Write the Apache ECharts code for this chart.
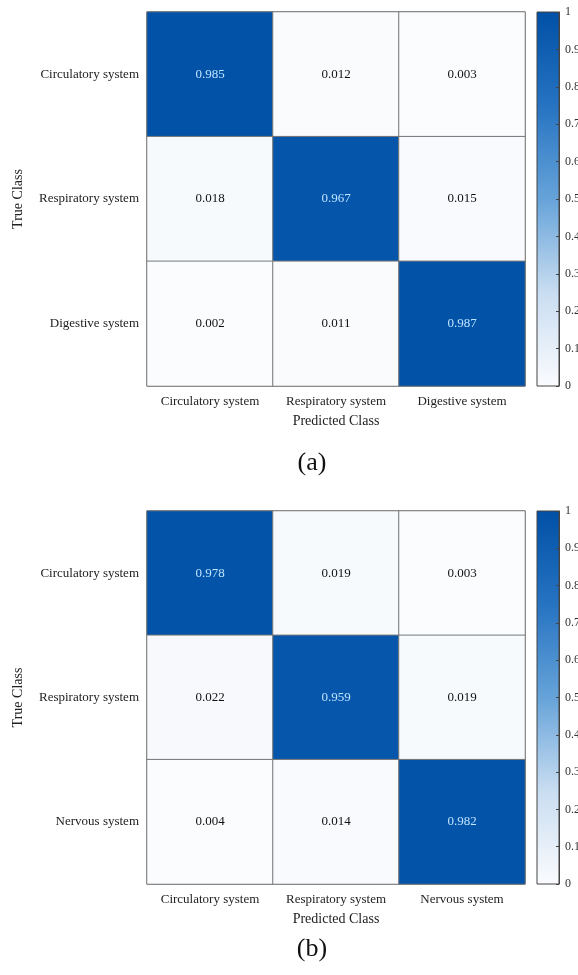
<!DOCTYPE html>
<html>
<head>
<meta charset="utf-8">
<script src="https://cdn.jsdelivr.net/npm/echarts@6/dist/echarts.min.js"></script>
<style>
  html, body { margin: 0; padding: 0; background: #fff; }
  #chart { width: 578px; height: 975px; }
</style>
</head>
<body>
<div id="chart"></div>
<script>
// Class names for the two confusion matrices
const predictedA = ['Circulatory system', 'Respiratory system', 'Digestive system'];
const trueA = ['Circulatory system', 'Respiratory system', 'Digestive system'];
const predictedB = ['Circulatory system', 'Respiratory system', 'Nervous system'];
const trueB = ['Circulatory system', 'Respiratory system', 'Nervous system'];

// Row = true class, column = predicted class
const matrixA = [
  [0.985, 0.012, 0.003],
  [0.018, 0.967, 0.015],
  [0.002, 0.011, 0.987]
];
const matrixB = [
  [0.978, 0.019, 0.003],
  [0.022, 0.959, 0.019],
  [0.004, 0.014, 0.982]
];

const panelLabels = ['(a)', '(b)'];
const colorbarMin = 0;
const colorbarMax = 1;
const colorbarStep = 0.1;

const FONT = '"Liberation Serif", "Times New Roman", serif';
// colour ramp from low (0) to high (1)
const RAMP = ['#fbfcfe', '#c9ddf1', '#66a3d9', '#2673c2', '#0050a6'];

function cells(matrix) {
  const out = [];
  matrix.forEach((row, r) => {
    row.forEach((v, c) => {
      out.push({
        value: [c, r, v],
        label: { color: v > 0.5 ? '#bfe4ff' : '#111' }
      });
    });
  });
  return out;
}

// vertical gradient for the colourbar, top = max
function rampGradient() {
  const n = RAMP.length - 1;
  const stops = RAMP.map((c, k) => ({ offset: 1 - k / n, color: c }));
  stops.reverse();
  return new echarts.graphic.LinearGradient(0, 0, 0, 1, stops);
}

// Panel geometry
const panels = [
  { top: 12, height: 374, xLabels: predictedA, yLabels: trueA, data: matrixA },
  { top: 511, height: 373, xLabels: predictedB, yLabels: trueB, data: matrixB }
];
const gridLeft = 147, gridWidth = 378;
const barLeft = 537, barWidth = 22;

const grid = [], xAxis = [], yAxis = [], series = [], visualMap = [], graphic = [];

panels.forEach((p, i) => {
  // heatmap grid
  grid.push({
    left: gridLeft, top: p.top, width: gridWidth, height: p.height,
    outerBoundsMode: 'none', containLabel: false,
    show: true, borderColor: '#666', borderWidth: 1, backgroundColor: 'transparent'
  });
  xAxis.push({
    type: 'category', gridIndex: 2 * i, data: p.xLabels,
    axisLine: { show: false }, axisTick: { show: false },
    axisLabel: { fontFamily: FONT, fontSize: 13, color: '#222', margin: 9, interval: 0, hideOverlap: false },
    name: 'Predicted Class', nameLocation: 'middle', nameGap: 28,
    nameTextStyle: { fontFamily: FONT, fontSize: 14, color: '#222' }
  });
  yAxis.push({
    type: 'category', gridIndex: 2 * i, data: p.yLabels, inverse: true,
    axisLine: { show: false }, axisTick: { show: false },
    axisLabel: { fontFamily: FONT, fontSize: 13, color: '#222', margin: 8, interval: 0 },
    name: 'True Class', nameLocation: 'middle', nameGap: 122,
    nameTextStyle: { fontFamily: FONT, fontSize: 14, color: '#222' }
  });
  series.push({
    type: 'heatmap', xAxisIndex: 2 * i, yAxisIndex: 2 * i,
    data: cells(p.data),
    itemStyle: { borderColor: '#777', borderWidth: 1 },
    label: {
      show: true, fontFamily: FONT, fontSize: 13,
      formatter: (d) => d.value[2].toFixed(3)
    },
    emphasis: { disabled: true }
  });

  // colourbar: a grid filled with the ramp, its value axis on the right
  grid.push({
    left: barLeft, top: p.top, width: barWidth, height: p.height,
    outerBoundsMode: 'none', containLabel: false,
    show: true, borderColor: '#444', borderWidth: 1,
    backgroundColor: rampGradient()
  });
  xAxis.push({
    type: 'value', gridIndex: 2 * i + 1, show: false, min: 0, max: 1,
    axisLine: { onZero: false }
  });
  yAxis.push({
    type: 'value', gridIndex: 2 * i + 1, position: 'right',
    min: colorbarMin, max: colorbarMax, interval: colorbarStep,
    splitLine: { show: false },
    axisLine: { show: true, onZero: false, lineStyle: { color: '#444' } },
    axisTick: { show: true, inside: true, length: 3, lineStyle: { color: '#444' } },
    axisLabel: { fontFamily: FONT, fontSize: 12, color: '#333', margin: 6 }
  });
  series.push({
    type: 'line', xAxisIndex: 2 * i + 1, yAxisIndex: 2 * i + 1, data: [],
    silent: true
  });

  visualMap.push({
    type: 'continuous', seriesIndex: 2 * i, min: colorbarMin, max: colorbarMax,
    show: false, inRange: { color: RAMP }
  });

  // panel tag
  graphic.push({
    type: 'text', z: 100,
    x: 312, y: p.top + p.height + (i === 0 ? 77 : 65),
    style: {
      text: panelLabels[i], font: '26px ' + FONT, fill: '#111',
      textAlign: 'center', textVerticalAlign: 'middle'
    }
  });
});

const chart = echarts.init(document.getElementById('chart'));
chart.setOption({
  backgroundColor: '#fff',
  animation: false,
  grid, xAxis, yAxis, series, visualMap, graphic
});
</script>
</body>
</html>
